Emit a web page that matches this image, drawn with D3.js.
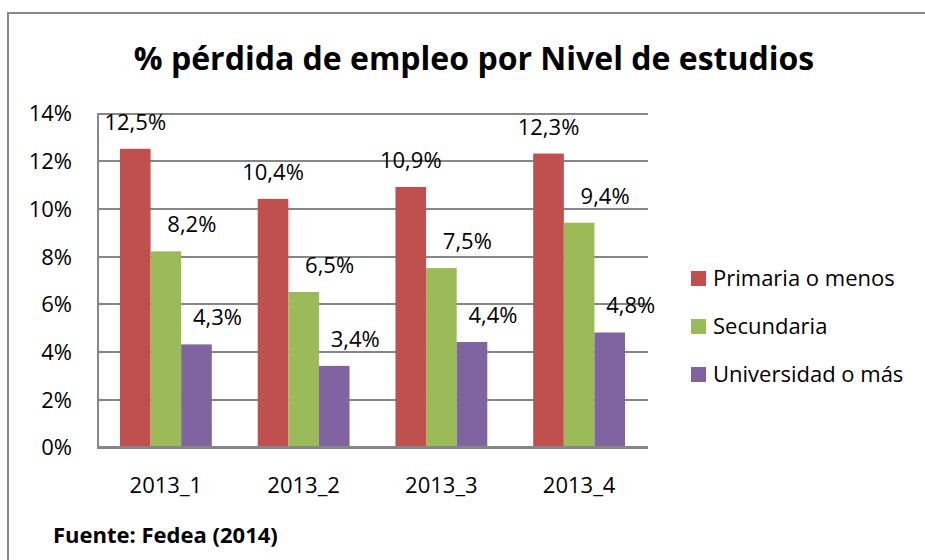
<!doctype html>
<html lang="es">
<head>
<meta charset="utf-8">
<title>% pérdida de empleo por Nivel de estudios</title>
<script src="https://d3js.org/d3.v7.min.js"></script>
<style>
  html, body { margin: 0; padding: 0; background: #fff; overflow: hidden; }
  svg { display: block; }
  svg text { font-family: "Open Sans", sans-serif; fill: #000; }
  .axis_standard .domain { stroke: #878787; stroke-width: 2px; }
  .axis_standard .tick line { stroke: #878787; stroke-width: 2px; }
  .axis_standard text { font-size: 22px; fill: #000; }
</style>
</head>
<body>
<svg id="main" width="925" height="560" xmlns="http://www.w3.org/2000/svg"></svg>

<script>
// data
let categories = ['2013_1', '2013_2', '2013_3', '2013_4'];
let series = ['Primaria o menos', 'Secundaria', 'Universidad o más'];
let primaria = [12.5, 10.4, 10.9, 12.3];
let secundaria = [8.2, 6.5, 7.5, 9.4];
let universidad = [4.3, 3.4, 4.4, 4.8];
let y_ticks = [0, 2, 4, 6, 8, 10, 12, 14];

let values = [primaria, secundaria, universidad];

let color_map = {
    'Primaria o menos': '#c0504d',
    'Secundaria': '#9bbb59',
    'Universidad o más': '#8064a2'
};
// excel pushes the labels of the smaller bars a bit to the right
let label_dx = {
    'Primaria o menos': 0,
    'Secundaria': 26,
    'Universidad o más': 21
};

let svg = d3.select('#main');
let x_range = [97, 648];
let y_range = [447, 113];

let es = d3.formatLocale({decimal: ',', thousands: '.', grouping: [3], currency: ['', '']});
let fmt = es.format('.1f');

let x_scale = d3.scaleBand().domain(categories).range(x_range)
    .paddingInner(1 / 3).paddingOuter(1 / 6);
let x_inner = d3.scaleBand().domain(series).range([0, x_scale.bandwidth()]);
let y_scale = d3.scaleLinear().domain([0, 14]).range(y_range);

// outer chart border, only the top and left edges fall inside the picture
svg.append('path')
    .attr('d', 'M8,560V13H925')
    .attr('fill', 'none')
    .attr('stroke', '#898989')
    .attr('stroke-width', 2);

// title
svg.append('text')
    .attr('x', 474).attr('y', 70)
    .attr('text-anchor', 'middle')
    .attr('font-size', 32)
    .attr('font-weight', 'bold')
    .text('% pérdida de empleo por Nivel de estudios');

// y axis with gridlines
svg.append('g')
    .attr('class', 'axis_standard')
    .attr('transform', 'translate(' + x_range[0] + ',0)')
    .attr('shape-rendering', 'crispEdges')
    .call(d3.axisLeft(y_scale).tickValues(y_ticks)
        .tickSizeInner(-(x_range[1] - x_range[0])).tickSizeOuter(0)
        .tickPadding(25)
        .tickFormat(d => d + '%'))
    .call(g => g.selectAll('text').attr('dy', '0.36em'));

// bars
let rows = categories.map((c, i) => ({cat: c, vals: series.map((s, j) => ({key: s, value: values[j][i]}))}));

let groups = svg.append('g').selectAll('g').data(rows).join('g')
    .attr('transform', d => 'translate(' + x_scale(d.cat) + ',0)');

groups.selectAll('rect').data(d => d.vals).join('rect')
    .attr('x', d => x_inner(d.key))
    .attr('y', d => y_scale(d.value))
    .attr('width', x_inner.bandwidth())
    .attr('height', d => y_scale(0) - y_scale(d.value))
    .attr('fill', d => color_map[d.key]);

groups.selectAll('text').data(d => d.vals).join('text')
    .attr('x', d => x_inner(d.key) + x_inner.bandwidth() / 2 + label_dx[d.key])
    .attr('y', d => y_scale(d.value) - 19)
    .attr('text-anchor', 'middle')
    .attr('font-size', 22)
    .text(d => fmt(d.value) + '%');

// x axis
svg.append('g')
    .attr('class', 'axis_standard')
    .attr('transform', 'translate(0,' + y_range[0] + ')')
    .attr('shape-rendering', 'crispEdges')
    .call(d3.axisBottom(x_scale).tickSize(0).tickPadding(30))
    .call(g => g.select('.domain').attr('d', 'M' + x_range[0] + ',0H' + x_range[1]));

// legend
let legend = svg.append('g').selectAll('g').data(series).join('g')
    .attr('transform', (d, i) => 'translate(691,' + (271 + i * 48) + ')');
legend.append('rect').attr('width', 15).attr('height', 15).attr('fill', d => color_map[d]);
legend.append('text').attr('x', 22).attr('y', 15).attr('font-size', 22).text(d => d);

// source
svg.append('text')
    .attr('x', 53).attr('y', 543)
    .attr('font-size', 22)
    .attr('font-weight', 'bold')
    .text('Fuente: Fedea (2014)');
</script>
</body>
</html>
